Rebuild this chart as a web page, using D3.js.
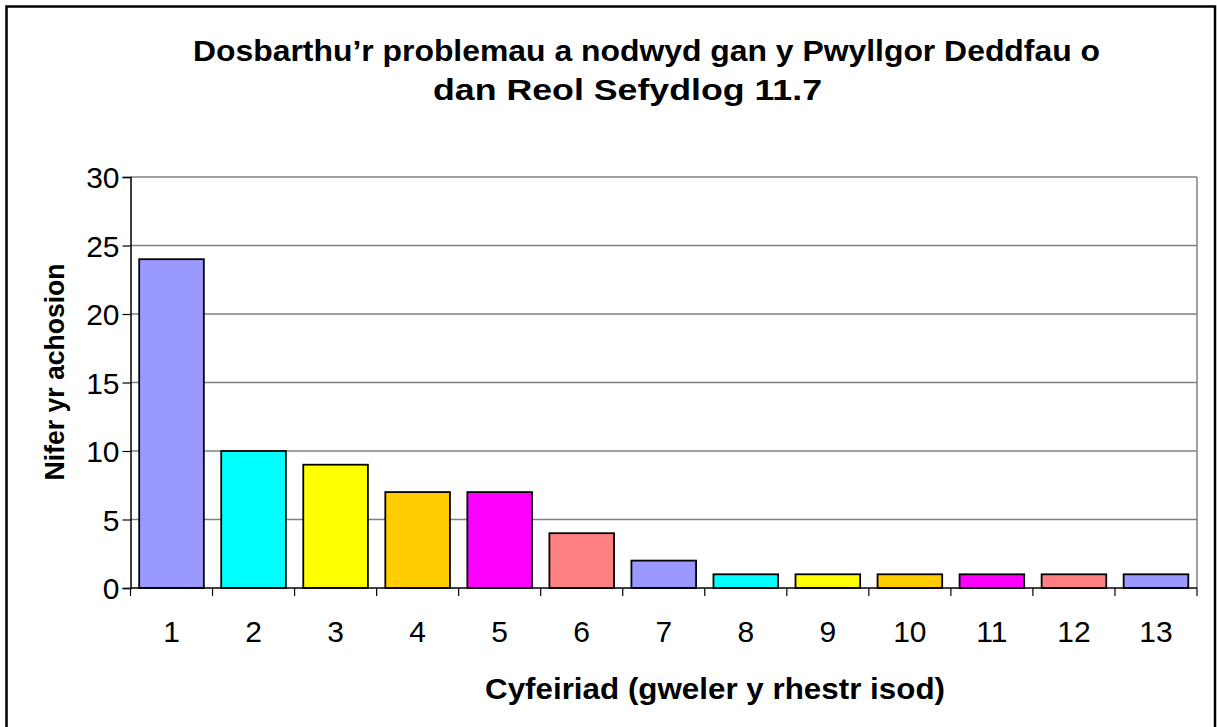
<!DOCTYPE html>
<html>
<head>
<meta charset="utf-8">
<script src="https://cdn.jsdelivr.net/npm/d3@7"></script>
<style>
  body { margin: 0; background: #fff; }
  svg { display: block; font-family: Arial, "Liberation Sans", sans-serif; }
</style>
</head>
<body>
<svg id="chart"></svg>
<script>
const categories = ["1", "2", "3", "4", "5", "6", "7", "8", "9", "10", "11", "12", "13"];
const values = [24, 10, 9, 7, 7, 4, 2, 1, 1, 1, 1, 1, 1];
const yTicks = [0, 5, 10, 15, 20, 25, 30];
const palette = ["#9999FF", "#00FFFF", "#FFFF00", "#FFCC00", "#FF00FF", "#FF8080"];
const titleLines = ["Dosbarthu\u2019r problemau a nodwyd gan y Pwyllgor Deddfau o", "dan Reol Sefydlog 11.7"];
const yTitle = "Nifer yr achosion";
const xTitle = "Cyfeiriad (gweler y rhestr isod)";

const W = 1217, H = 727;
const plot = { left: 130.5, right: 1197, top: 177, bottom: 588 };

const svg = d3.select("#chart").attr("width", W).attr("height", H);

// frame
svg.append("rect")
  .attr("x", 6.5).attr("y", 6.5)
  .attr("width", 1208.5).attr("height", 740)
  .attr("fill", "#fff")
  .attr("stroke", "#000")
  .attr("stroke-width", 2.5);

const x = d3.scaleBand()
  .domain(categories)
  .range([plot.left, plot.right])
  .paddingInner(0.212)
  .paddingOuter(0.106);

const y = d3.scaleLinear()
  .domain([0, 30])
  .range([plot.bottom, plot.top]);

// gridlines
svg.append("g")
  .selectAll("line")
  .data(yTicks.filter(d => d > 0))
  .join("line")
  .attr("x1", plot.left).attr("x2", plot.right)
  .attr("y1", d => y(d)).attr("y2", d => y(d))
  .attr("stroke", "#808080")
  .attr("stroke-width", 1.5);

// plot right border
svg.append("line")
  .attr("x1", plot.right).attr("x2", plot.right)
  .attr("y1", plot.top).attr("y2", plot.bottom)
  .attr("stroke", "#808080")
  .attr("stroke-width", 1.5);

// bars
svg.append("g")
  .selectAll("rect")
  .data(values)
  .join("rect")
  .attr("x", (d, i) => x(categories[i]))
  .attr("width", x.bandwidth())
  .attr("y", d => y(d))
  .attr("height", d => y(0) - y(d))
  .attr("fill", (d, i) => palette[i % palette.length])
  .attr("stroke", "#000")
  .attr("stroke-width", 1.8);

// y axis
const yAxis = svg.append("g")
  .attr("transform", `translate(${plot.left},0)`)
  .call(d3.axisLeft(y).tickValues(yTicks).tickSize(8).tickPadding(3).tickFormat(d3.format("d")));
yAxis.select(".domain").attr("stroke", "#000").attr("stroke-width", 1.5);
yAxis.selectAll(".tick line").attr("stroke", "#000").attr("stroke-width", 1.2);
yAxis.selectAll(".tick text")
  .attr("font-size", 30)
  .attr("font-family", "Arial, 'Liberation Sans', sans-serif")
  .attr("fill", "#000")
  .attr("dy", "0.36em");

// x axis: ticks at category boundaries
const bounds = d3.range(categories.length + 1).map(i => plot.left + i * x.step());
svg.append("line")
  .attr("x1", plot.left).attr("x2", plot.right)
  .attr("y1", plot.bottom).attr("y2", plot.bottom)
  .attr("stroke", "#000")
  .attr("stroke-width", 1.5);
svg.append("g")
  .selectAll("line")
  .data(bounds)
  .join("line")
  .attr("x1", d => d).attr("x2", d => d)
  .attr("y1", plot.bottom).attr("y2", plot.bottom + 8)
  .attr("stroke", "#000")
  .attr("stroke-width", 1.2);
svg.append("g")
  .selectAll("text")
  .data(categories)
  .join("text")
  .attr("x", d => x(d) + x.bandwidth() / 2)
  .attr("y", 642)
  .attr("text-anchor", "middle")
  .attr("font-size", 30)
  .text(d => d);

// titles (fitted to the widths measured on the reference)
svg.append("text")
  .attr("x", 193).attr("y", 61)
  .attr("font-size", 29).attr("font-weight", "bold")
  .attr("textLength", 907).attr("lengthAdjust", "spacingAndGlyphs")
  .text(titleLines[0]);
svg.append("text")
  .attr("x", 433).attr("y", 100)
  .attr("font-size", 29).attr("font-weight", "bold")
  .attr("textLength", 389).attr("lengthAdjust", "spacingAndGlyphs")
  .text(titleLines[1]);

svg.append("text")
  .attr("transform", "translate(64,372) rotate(-90)")
  .attr("text-anchor", "middle")
  .attr("font-size", 28).attr("font-weight", "bold")
  .attr("textLength", 217).attr("lengthAdjust", "spacingAndGlyphs")
  .text(yTitle);

svg.append("text")
  .attr("x", 485).attr("y", 699)
  .attr("font-size", 29).attr("font-weight", "bold")
  .attr("textLength", 460).attr("lengthAdjust", "spacingAndGlyphs")
  .text(xTitle);
</script>
</body>
</html>
